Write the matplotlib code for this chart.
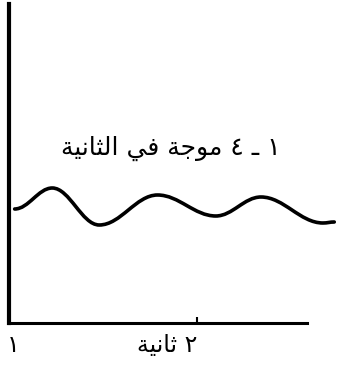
import matplotlib
matplotlib.use("Agg")
import matplotlib.pyplot as plt
from matplotlib.path import Path
from matplotlib.patches import PathPatch

# wave turning points: time (s) and amplitude (arbitrary units)
time_s = [1.03, 1.23, 1.48, 1.79, 2.10, 2.34, 2.67, 2.73]
amplitude = [114, 135, 98, 128, 107, 126, 100, 101]

title_text = "١ ـ ٤ موجة في الثانية"
tick_values = [1, 2]
tick_labels = ["١", "٢ ثانية"]

# simple arabic shaping (matplotlib draws letters unjoined and left-to-right)
FORMS = {
    'ا': ('\uFE8D', '\uFE8E', None, None),
    'ل': ('\uFEDD', '\uFEDE', '\uFEDF', '\uFEE0'),
    'ث': ('\uFE99', '\uFE9A', '\uFE9B', '\uFE9C'),
    'ن': ('\uFEE5', '\uFEE6', '\uFEE7', '\uFEE8'),
    'ي': ('\uFEF1', '\uFEF2', '\uFEF3', '\uFEF4'),
    'ة': ('\uFE93', '\uFE94', None, None),
    'م': ('\uFEE1', '\uFEE2', '\uFEE3', '\uFEE4'),
    'و': ('\uFEED', '\uFEEE', None, None),
    'ج': ('\uFE9D', '\uFE9E', '\uFE9F', '\uFEA0'),
    'ف': ('\uFED1', '\uFED2', '\uFED3', '\uFED4'),
}


def shape(s):
    out = []
    for i, c in enumerate(s):
        if c not in FORMS:
            out.append(c)
            continue
        iso, fin, ini, med = FORMS[c]
        prev = s[i - 1] if i > 0 else ''
        nxt = s[i + 1] if i + 1 < len(s) else ''
        jp = prev in FORMS and FORMS[prev][2] is not None
        jn = ini is not None and nxt in FORMS
        if jp and jn:
            out.append(med)
        elif jp:
            out.append(fin)
        elif jn:
            out.append(ini)
        else:
            out.append(iso)
    return ''.join(reversed(out))


def wave_path(x, y, k=0.37):
    # bezier segments between turning points, flat at each turning point
    verts = [(x[0], y[0])]
    codes = [Path.MOVETO]
    for i in range(len(x) - 1):
        dx = x[i + 1] - x[i]
        verts += [(x[i] + k * dx, y[i]), (x[i + 1] - k * dx, y[i + 1]), (x[i + 1], y[i + 1])]
        codes += [Path.CURVE4] * 3
    return Path(verts, codes)


plt.rcParams['font.family'] = ['DejaVu Sans']

fig = plt.figure(figsize=(3.37, 3.68), dpi=100)
ax = fig.add_axes([9 / 337, 45 / 368, 298 / 337, 319 / 368])
ax.set_xlim(1, 2.585)
ax.set_ylim(0, 319)

ax.add_patch(PathPatch(wave_path(time_s, amplitude), fill=False, edgecolor='black',
                       lw=2.6, capstyle='round', joinstyle='round', clip_on=False))

for s in ['top', 'right']:
    ax.spines[s].set_visible(False)
ax.spines['left'].set_linewidth(3)
ax.spines['bottom'].set_linewidth(2.2)

ax.set_yticks([])
ax.set_xticks([tick_values[1]])
ax.set_xticklabels([])
ax.tick_params(axis='x', direction='in', length=4.5, width=1.5, color='black')

ax.text(tick_values[0] + 0.02, -10, shape(tick_labels[0]), ha='center', va='top',
        fontsize=17, clip_on=False)
ax.text(tick_values[1], -10, shape(tick_labels[1]), ha='right', va='top',
        fontsize=17, clip_on=False)
ax.text(1.86, 175, shape(title_text), ha='center', va='center', fontsize=18)

fig.savefig('out.png', dpi=100)
